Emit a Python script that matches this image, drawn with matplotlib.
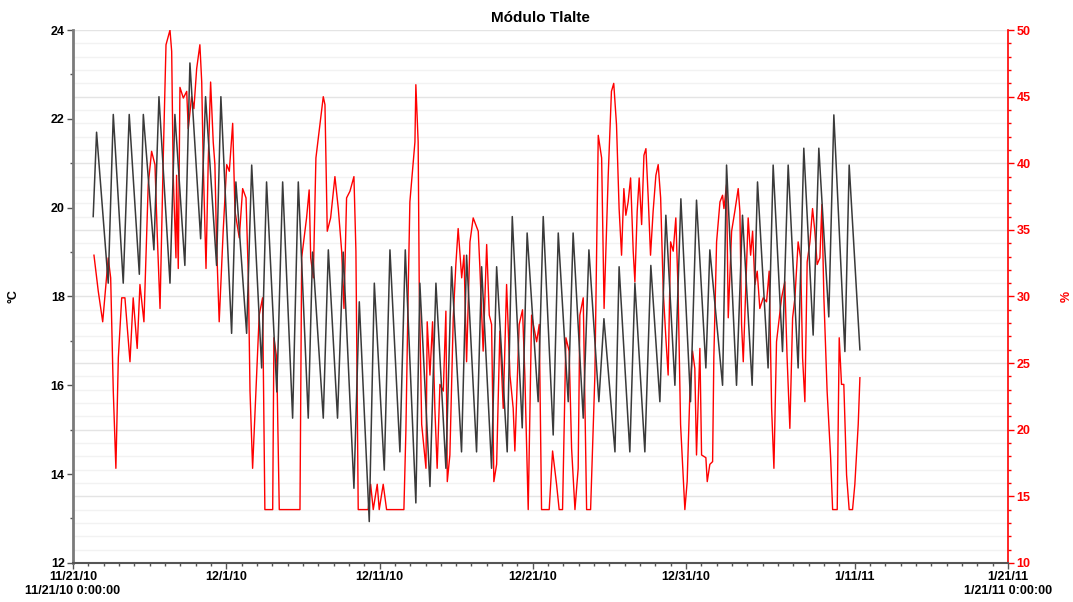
import matplotlib
matplotlib.use("Agg")
import matplotlib.pyplot as plt
import matplotlib.dates as mdates
from matplotlib.ticker import MultipleLocator
import numpy as np
import pandas as pd

plt.rcParams["font.family"] = ["Liberation Sans", "DejaVu Sans"]

# ── Data ───────────────────────────────────────────────────────────────────────
START = pd.Timestamp("2010-11-21 00:00:00")

# temperature: daily troughs / peaks (days after START, degC)
temp_days = [
    1.32, 1.54, 2.30, 2.63, 3.28, 3.67, 4.33, 4.59, 5.28, 5.61, 6.33, 6.65,
    7.30, 7.63, 8.33, 8.65, 9.37, 9.65, 10.35, 10.63, 11.33, 11.66, 12.31, 12.63,
    13.30, 13.68, 14.33, 14.70, 15.35, 15.63, 16.33, 16.66, 17.26, 17.63, 18.33, 18.68,
    19.33, 19.66, 20.31, 20.68, 21.33, 21.68, 22.37, 22.63, 23.29, 23.68, 24.33, 24.70,
    25.35, 25.68, 26.33, 26.66, 27.31, 27.64, 28.33, 28.66, 29.31, 29.63, 30.35, 30.68,
    31.33, 31.66, 32.31, 32.63, 33.29, 33.66, 34.31, 34.64, 35.36, 35.63, 36.33, 36.66,
    37.31, 37.70, 38.29, 38.68, 39.27, 39.66, 40.29, 40.68, 41.29, 41.55, 42.38, 42.64,
    43.29, 43.68, 44.31, 44.66, 45.35, 45.68, 46.29, 46.66, 47.31, 47.68, 48.29, 48.66,
    49.31, 49.64, 50.36, 50.64, 51.34,
]
temp_vals = [
    19.8, 21.7, 18.3, 22.1, 18.3, 22.1, 18.5, 22.1, 19.05, 22.5, 18.3, 22.1,
    18.7, 23.26, 19.3, 22.5, 18.7, 22.5, 17.17, 20.58, 17.17, 20.96, 16.39, 20.58,
    15.85, 20.58, 15.26, 20.58, 15.26, 19.0, 15.26, 19.05, 15.26, 19.0, 13.68, 17.88,
    12.93, 18.3, 14.09, 19.05, 14.5, 19.05, 13.35, 18.3, 13.72, 18.3, 14.13, 18.67,
    14.5, 18.93, 14.5, 18.67, 14.13, 18.67, 14.5, 19.8, 15.04, 19.43, 15.63, 19.8,
    14.88, 19.43, 15.63, 19.43, 15.26, 19.05, 15.63, 17.5, 14.5, 18.67, 14.5, 18.3,
    14.5, 18.7, 15.63, 19.83, 16.0, 20.2, 15.63, 20.17, 16.39, 19.05, 16.0, 20.96,
    16.0, 19.83, 16.0, 20.58, 16.39, 20.96, 16.76, 20.96, 16.39, 21.34, 17.13, 21.34,
    17.54, 22.09, 16.76, 20.96, 16.8,
]

# relative humidity (days after START, %)
rh_days = [
    1.37, 1.65, 1.94, 2.30, 2.46, 2.63, 2.80, 2.96, 3.18, 3.39, 3.72, 3.93,
    4.19, 4.37, 4.63, 4.91, 5.13, 5.35, 5.50, 5.68, 5.89, 6.07, 6.33, 6.44,
    6.54, 6.72, 6.76, 6.87, 6.98, 7.20, 7.42, 7.52, 7.74, 7.89, 8.07, 8.28,
    8.40, 8.50, 8.68, 8.83, 8.98, 9.15, 9.26, 9.37, 9.54, 9.80, 10.03, 10.20,
    10.42, 10.57, 10.85, 11.07, 11.29, 11.44, 11.55, 11.72, 11.98, 12.15, 12.37, 12.52,
    13.03, 13.11, 13.29, 13.46, 14.81, 14.92, 15.13, 15.24, 15.41, 15.51, 15.68, 15.85,
    16.11, 16.33, 16.44, 16.59, 16.81, 17.09, 17.31, 17.53, 17.68, 17.85, 18.07, 18.33,
    18.46, 18.61, 19.26, 19.42, 19.59, 19.85, 19.98, 20.24, 20.46, 21.59, 21.72, 21.87,
    21.98, 22.16, 22.31, 22.37, 22.52, 22.59, 22.75, 23.03, 23.11, 23.29, 23.46, 23.61,
    23.76, 23.94, 24.16, 24.33, 24.42, 24.59, 24.81, 24.98, 25.13, 25.36, 25.51, 25.68,
    25.90, 26.11, 26.44, 26.55, 26.76, 26.99, 27.16, 27.31, 27.46, 27.64, 27.85, 28.07,
    28.29, 28.51, 28.72, 28.83, 29.11, 29.33, 29.48, 29.70, 29.92, 30.25, 30.42, 30.57,
    31.07, 31.29, 31.55, 31.72, 31.94, 32.16, 32.37, 32.53, 32.75, 32.96, 33.07, 33.29,
    33.51, 33.77, 34.05, 34.27, 34.49, 34.65, 34.92, 35.13, 35.28, 35.46, 35.63, 35.79,
    35.94, 36.07, 36.22, 36.38, 36.55, 36.66, 36.81, 36.94, 37.10, 37.25, 37.38, 37.53,
    37.68, 37.85, 38.03, 38.18, 38.34, 38.51, 38.68, 38.83, 38.99, 39.16, 39.33, 39.48,
    39.64, 39.92, 40.07, 40.25, 40.42, 40.57, 40.68, 40.90, 41.01, 41.29, 41.38, 41.55,
    41.73, 41.81, 41.99, 42.21, 42.38, 42.47, 42.64, 42.75, 42.97, 43.18, 43.40, 43.51,
    43.62, 43.73, 43.90, 44.05, 44.21, 44.34, 44.49, 44.64, 44.81, 45.03, 45.25, 45.42,
    45.58, 45.73, 45.90, 46.23, 46.44, 46.59, 46.77, 46.95, 47.10, 47.31, 47.47, 47.60,
    47.75, 47.90, 48.08, 48.25, 48.40, 48.55, 48.73, 48.86, 48.99, 49.20, 49.43, 49.56,
    49.86, 49.99, 50.14, 50.29, 50.47, 50.64, 50.86, 51.01, 51.23, 51.34,
]
rh_vals = [
    33.1, 30.4, 28.1, 32.9, 31.4, 22.9, 17.1, 25.4, 29.9, 29.9, 25.1, 29.9,
    26.1, 30.9, 28.1, 38.4, 40.9, 39.9, 34.6, 29.1, 40.4, 48.9, 50.0, 48.4,
    39.1, 32.9, 39.1, 32.1, 45.7, 44.9, 45.4, 42.6, 45.0, 44.1, 47.1, 48.9,
    46.1, 39.9, 32.1, 40.4, 46.1, 41.6, 39.9, 33.9, 28.1, 34.9, 39.9, 39.4,
    43.0, 36.4, 34.4, 38.1, 37.4, 31.6, 22.9, 17.1, 24.1, 28.6, 29.9, 14.0,
    14.0, 26.9, 25.4, 14.0, 14.0, 32.9, 34.9, 35.9, 38.0, 32.9, 31.4, 40.4,
    42.9, 45.0, 44.4, 34.9, 35.9, 39.0, 36.6, 33.4, 29.1, 37.4, 37.9, 39.0,
    33.4, 14.0, 14.0, 15.9, 14.0, 15.9, 14.0, 15.9, 14.0, 14.0, 19.9, 30.4,
    37.1, 39.6, 41.6, 45.9, 41.6, 30.9, 20.4, 17.1, 28.1, 24.1, 28.1, 21.6,
    17.1, 23.4, 22.9, 28.9, 16.1, 18.1, 28.4, 32.4, 35.1, 31.4, 33.1, 25.1,
    34.1, 35.9, 34.9, 32.1, 25.9, 33.9, 28.6, 27.9, 16.1, 17.4, 27.4, 21.6,
    30.9, 24.1, 21.6, 18.4, 27.9, 29.0, 24.1, 14.0, 28.6, 26.6, 27.9, 14.0,
    14.0, 18.4, 15.9, 14.0, 14.0, 26.9, 25.9, 18.6, 14.0, 17.1, 28.6, 29.9,
    14.0, 14.0, 24.1, 42.1, 40.4, 29.1, 39.1, 45.4, 46.0, 42.9, 36.6, 33.1,
    38.1, 36.1, 37.1, 38.9, 33.4, 31.1, 36.4, 38.9, 35.4, 40.6, 41.1, 37.4,
    33.1, 36.4, 39.1, 39.9, 37.4, 30.4, 26.9, 24.1, 34.1, 33.4, 35.9, 30.4,
    20.4, 14.0, 16.1, 22.9, 25.9, 24.6, 18.1, 26.1, 18.1, 17.9, 16.1, 17.4,
    17.6, 25.4, 34.1, 37.1, 37.6, 36.6, 38.4, 28.4, 34.9, 36.4, 38.1, 36.4,
    27.9, 25.1, 30.9, 35.9, 33.1, 34.9, 30.9, 31.9, 29.1, 29.9, 29.6, 31.9,
    21.6, 17.1, 26.6, 29.9, 31.1, 25.4, 20.1, 28.4, 29.9, 34.1, 32.9, 25.4,
    22.1, 32.6, 34.1, 36.6, 34.9, 32.4, 32.9, 36.9, 29.9, 22.9, 17.9, 14.0,
    14.0, 26.9, 23.4, 23.4, 16.6, 14.0, 14.0, 15.9, 20.4, 23.9,
]

major_dates = ["2010-11-21", "2010-12-01", "2010-12-11", "2010-12-21",
               "2010-12-31", "2011-01-11", "2011-01-21"]
major_labels = ["11/21/10\n11/21/10 0:00:00", "12/1/10", "12/11/10", "12/21/10",
                "12/31/10", "1/11/11", "1/21/11\n1/21/11 0:00:00"]

TITLE = "Módulo Tlalte"
RED = "#ff0000"

# ── Plot ───────────────────────────────────────────────────────────────────────
t_temp = START + pd.to_timedelta(temp_days, unit="D")
t_rh = START + pd.to_timedelta(rh_days, unit="D")

fig = plt.figure(figsize=(10.73, 6.02), dpi=100)
ax = fig.add_axes([0.068, 0.065, 0.8714, 0.885])
ax2 = ax.twinx()

# faint horizontal grid on the humidity scale
for v in range(11, 50):
    c = "#e4e4e4" if v % 5 == 0 else "#f2f2f2"
    ax2.axhline(v, color=c, lw=1.0, zorder=0)
ax2.axhline(50, color="#e4e4e4", lw=1.0, zorder=0)

ax.plot(t_temp, temp_vals, color="#3a3a3a", lw=1.1, zorder=3)
ax2.plot(t_rh, rh_vals, color=RED, lw=1.0, zorder=2)

ax.set_zorder(ax2.get_zorder() + 1)
ax.patch.set_visible(False)

ax.set_xlim(START, START + pd.Timedelta(days=61))
ax.set_ylim(12, 24)
ax2.set_ylim(10, 50)

ax.set_xticks(pd.to_datetime(major_dates))
ax.set_xticklabels(major_labels)
ax.xaxis.set_minor_locator(mdates.DayLocator())
ax.yaxis.set_major_locator(MultipleLocator(2))
ax.yaxis.set_minor_locator(MultipleLocator(1))
ax2.yaxis.set_major_locator(MultipleLocator(5))
ax2.yaxis.set_minor_locator(MultipleLocator(1))

for lab in ax.get_xticklabels() + ax.get_yticklabels():
    lab.set_fontweight("bold")
    lab.set_fontsize(9)
for lab in ax2.get_yticklabels():
    lab.set_fontweight("bold")
    lab.set_fontsize(9)
    lab.set_color(RED)

ax.tick_params(axis="x", which="major", length=4, width=1, color="#555555", pad=2)
ax.tick_params(axis="x", which="minor", length=2, width=1, color="#555555")
ax.tick_params(axis="y", which="major", length=4, width=1, color="#555555", pad=2)
ax.tick_params(axis="y", which="minor", length=2, width=1, color="#555555")
ax2.tick_params(axis="y", which="major", length=4, width=1, color=RED, pad=2)
ax2.tick_params(axis="y", which="minor", length=2, width=1, color=RED)

for a in (ax, ax2):
    a.spines["top"].set_visible(False)
ax.spines["left"].set_color("#7a7a7a")
ax.spines["left"].set_linewidth(2)
ax.spines["bottom"].set_color("#555555")
ax.spines["bottom"].set_linewidth(1.5)
ax.spines["right"].set_visible(False)
ax2.spines["left"].set_visible(False)
ax2.spines["bottom"].set_visible(False)
ax2.spines["right"].set_color(RED)
ax2.spines["right"].set_linewidth(1.2)

ax.set_ylabel("°C", fontsize=9, fontweight="bold", labelpad=22)
ax2.set_ylabel("%", fontsize=9, fontweight="bold", color=RED, labelpad=22)
ax.set_title(TITLE, fontsize=11, fontweight="bold", pad=6)

fig.savefig("out.png", dpi=100)
